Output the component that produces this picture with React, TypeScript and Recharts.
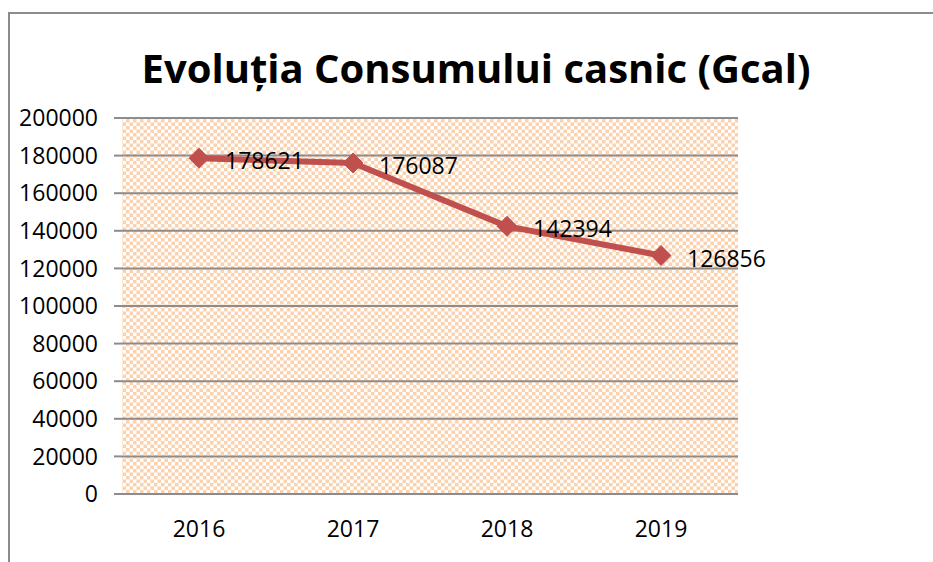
import { CartesianGrid, LabelList, Line, LineChart, XAxis, YAxis } from "recharts";

const years = ["2016", "2017", "2018", "2019"];
const consumption = [178621, 176087, 142394, 126856];
const yTicks = [0, 20000, 40000, 60000, 80000, 100000, 120000, 140000, 160000, 180000, 200000];

const data = years.map((year, i) => ({ x: i + 0.5, year, value: consumption[i] }));
const bounds = years.map((_, i) => i).concat(years.length);

const RED = "#C0504D";
const GRAY = "#8C8C8C";
const FONT = "'Open Sans', 'Liberation Sans', sans-serif";

function Diamond(props: any) {
  const { cx, cy } = props;
  if (cx == null || cy == null) return null;
  const r = 10;
  return (
    <polygon
      points={`${cx},${cy - r} ${cx + r},${cy} ${cx},${cy + r} ${cx - r},${cy}`}
      fill={RED}
      stroke={RED}
    />
  );
}

function ValueLabel(props: any) {
  const { x, y, value } = props;
  return (
    <text x={x + 26} y={y + 2} dominantBaseline="central" fontSize={23} fontFamily={FONT} fill="#000">
      {value}
    </text>
  );
}

export default function App() {
  return (
    <div style={{ position: "absolute", left: 0, top: 0, width: 933, height: 562, background: "#fff" }}>
      <div
        style={{
          position: "absolute",
          left: 8,
          top: 12,
          width: 940,
          height: 560,
          borderTop: `2px solid ${GRAY}`,
          borderLeft: `2px solid ${GRAY}`
        }}
      />
      <div
        style={{
          position: "absolute",
          left: 0,
          width: 952,
          top: 38,
          textAlign: "center",
          fontFamily: FONT,
          fontWeight: 700,
          fontSize: 40,
          lineHeight: "60px",
          color: "#000"
        }}
      >
        Evoluția Consumului casnic (Gcal)
      </div>
      <div style={{ position: "absolute", left: 0, top: 0 }}>
        <LineChart width={933} height={562} data={data} margin={{ top: 118, right: 195, left: 22, bottom: 28 }}>
          <defs>
            <pattern id="checker" width="7" height="7" patternUnits="userSpaceOnUse">
              <rect width="7" height="7" fill="#FFFFFF" />
              <rect x="0" y="0" width="3.5" height="3.5" fill="#FCD2AE" />
              <rect x="3.5" y="3.5" width="3.5" height="3.5" fill="#FCD2AE" />
            </pattern>
          </defs>
          <CartesianGrid vertical={false} stroke={GRAY} strokeWidth={2} fill="url(#checker)" fillOpacity={1} />
          <XAxis
            xAxisId="bounds"
            type="number"
            dataKey="x"
            domain={[0, years.length]}
            ticks={bounds}
            interval={0}
            height={0}
            tickSize={8}
            tickFormatter={() => ""}
            stroke={GRAY}
            axisLine={{ stroke: GRAY, strokeWidth: 2 }}
            tickLine={{ stroke: GRAY, strokeWidth: 2 }}
          />
          <XAxis
            xAxisId="labels"
            type="number"
            dataKey="x"
            domain={[0, years.length]}
            ticks={data.map((d) => d.x)}
            interval={0}
            height={40}
            tickSize={0}
            tickMargin={27}
            axisLine={false}
            tickLine={false}
            tickFormatter={(v) => years[Math.floor(Number(v))]}
            tick={{ fill: "#000", fontSize: 23, fontFamily: FONT }}
          />
          <YAxis
            domain={[0, 200000]}
            ticks={yTicks}
            interval={0}
            width={100}
            tickSize={8}
            tickMargin={16}
            axisLine={false}
            tickLine={{ stroke: GRAY, strokeWidth: 2 }}
            tick={{ fill: "#000", fontSize: 23, fontFamily: FONT }}
          />
          <Line
            xAxisId="bounds"
            type="linear"
            dataKey="value"
            stroke={RED}
            strokeWidth={6}
            dot={<Diamond />}
            activeDot={false}
            isAnimationActive={false}
          >
            <LabelList dataKey="value" content={<ValueLabel />} />
          </Line>
        </LineChart>
      </div>
    </div>
  );
}
